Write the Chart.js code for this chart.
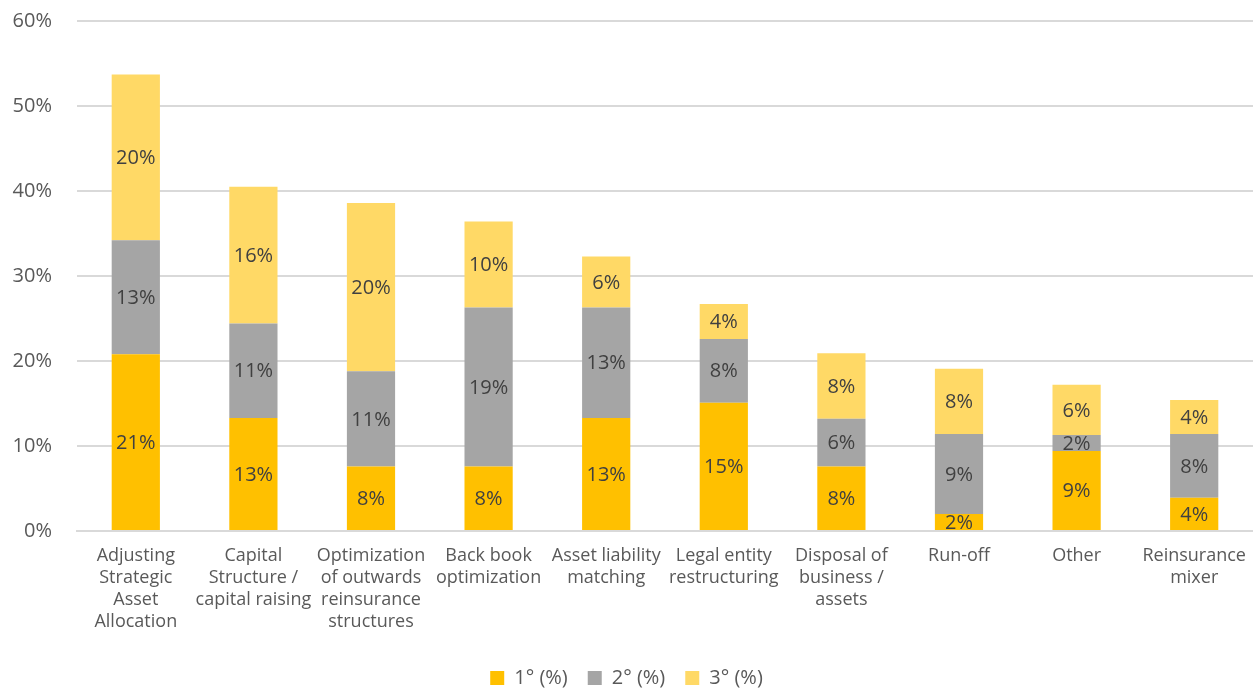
<!DOCTYPE html>
<html lang="en">
<head>
  <meta charset="UTF-8" />
  <title>Stacked bars</title>
  <script src="https://cdn.jsdelivr.net/npm/chart.js"></script>
  <style>
    html, body { margin: 0; padding: 0; background: #fff; overflow: hidden; height: 689px; }
    #wrap { width: 1253px; height: 714px; margin-top: -16px; }
  </style>
</head>
<body>
  <div id="wrap"><canvas id="chart"></canvas></div>

  <script>
    const categories = [
      ['Adjusting', 'Strategic', 'Asset', 'Allocation'],
      ['Capital', 'Structure /', 'capital raising'],
      ['Optimization', 'of outwards', 'reinsurance', 'structures'],
      ['Back book', 'optimization'],
      ['Asset liability', 'matching'],
      ['Legal entity', 'restructuring'],
      ['Disposal of', 'business /', 'assets'],
      ['Run-off'],
      ['Other'],
      ['Reinsurance', 'mixer']
    ];
    const first = [20.8, 13.3, 7.6, 7.6, 13.3, 15.1, 7.6, 2.0, 9.4, 3.9];
    const second = [13.4, 11.1, 11.2, 18.7, 13.0, 7.5, 5.6, 9.4, 1.9, 7.5];
    const third = [19.5, 16.1, 19.8, 10.1, 6.0, 4.1, 7.7, 7.7, 5.9, 4.0];
    const yTicks = [0, 10, 20, 30, 40, 50, 60];

    const font = "'Open Sans', 'DejaVu Sans', sans-serif";

    // draws the percentage in the middle of each segment
    const segmentLabels = {
      id: 'segmentLabels',
      afterDatasetsDraw(chart) {
        const ctx = chart.ctx;
        ctx.save();
        ctx.font = '20px ' + font;
        ctx.fillStyle = '#404040';
        ctx.textAlign = 'center';
        ctx.textBaseline = 'middle';
        chart.data.datasets.forEach((ds, i) => {
          chart.getDatasetMeta(i).data.forEach((bar, j) => {
            const mid = (bar.y + bar.base) / 2;
            ctx.fillText(Math.round(ds.data[j]) + '%', bar.x, mid + 1);
          });
        });
        ctx.restore();
      }
    };

    new Chart(document.getElementById('chart'), {
      type: 'bar',
      data: {
        labels: categories,
        datasets: [
          { label: '1° (%)', data: first, backgroundColor: '#FFC000' },
          { label: '2° (%)', data: second, backgroundColor: '#A5A5A5' },
          { label: '3° (%)', data: third, backgroundColor: '#FFD966' }
        ]
      },
      options: {
        responsive: true,
        maintainAspectRatio: false,
        animation: false,
        layout: { padding: 0 },
        datasets: { bar: { barPercentage: 0.41, categoryPercentage: 1 } },
        plugins: {
          tooltip: { enabled: false },
          legend: {
            position: 'bottom',
            labels: {
              font: { family: font, size: 20 },
              color: '#595959',
              boxWidth: 14,
              boxHeight: 14,
              padding: 20
            }
          }
        },
        scales: {
          x: {
            stacked: true,
            grid: { display: false },
            border: { color: '#D9D9D9', width: 2 },
            afterFit(axis) { axis.height = 117; },
            ticks: {
              font: { family: font, size: 18, lineHeight: 1.22 },
              color: '#595959',
              maxRotation: 0,
              autoSkip: false,
              padding: 6
            }
          },
          y: {
            stacked: true,
            min: 0,
            max: 60,
            afterBuildTicks(axis) { axis.ticks = yTicks.map(v => ({ value: v })); },
            afterFit(axis) { axis.width = 77; },
            grid: { color: '#D9D9D9', lineWidth: 2, drawTicks: false },
            border: { display: false },
            ticks: {
              font: { family: font, size: 20 },
              color: '#595959',
              padding: 25,
              callback: v => v + '%'
            }
          }
        }
      },
      plugins: [segmentLabels]
    });
  </script>
</body>
</html>
